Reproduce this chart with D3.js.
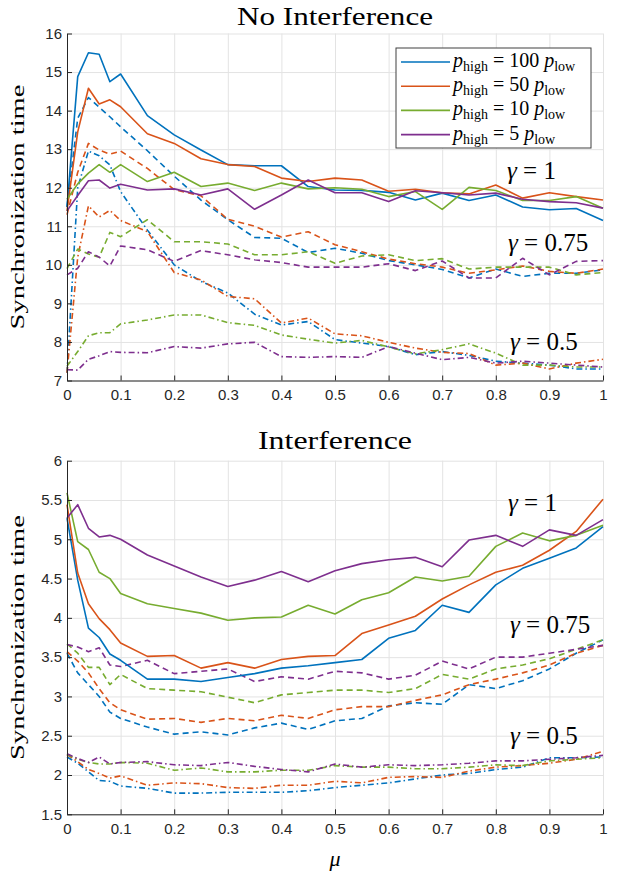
<!DOCTYPE html>
<html>
<head>
<meta charset="utf-8">
<script src="https://cdn.jsdelivr.net/npm/d3@7"></script>
<style>
  body { margin: 0; background: #fff; }
  .tick text { font-family: "Liberation Sans", Arial, sans-serif; font-size: 15px; fill: #262626; }
  .serif { font-family: "Liberation Serif", "DejaVu Serif", serif; fill: #000; }
</style>
</head>
<body>
<div id="chart"></div>
<script>
var W = 618, H = 873;

var colors = ["#0072BD", "#D95319", "#77AC30", "#7E2F8E"];
var ratios = ["100", "50", "10", "5"];

var mu = [0, 0.02, 0.04, 0.06, 0.08, 0.1, 0.15, 0.2, 0.25, 0.3, 0.35, 0.4, 0.45, 0.5,
          0.55, 0.6, 0.65, 0.7, 0.75, 0.8, 0.85, 0.9, 0.95, 1];
var xTicks = [0, 0.1, 0.2, 0.3, 0.4, 0.5, 0.6, 0.7, 0.8, 0.9, 1];
var topYTicks = [7, 8, 9, 10, 11, 12, 13, 14, 15, 16];
var botYTicks = [1.5, 2, 2.5, 3, 3.5, 4, 4.5, 5, 5.5, 6];

// No interference, gamma = 1
var nb100 = [11.5, 14.88, 15.5, 15.46, 14.75, 14.95, 13.87, 13.37, 12.98, 12.6, 12.57, 12.57, 12.03, 11.94, 11.93, 11.88, 11.68, 11.86, 11.67, 11.81, 11.5, 11.43, 11.46, 11.15];
var nb50  = [11.4, 13.45, 14.58, 14.17, 14.28, 14.1, 13.4, 13.15, 12.75, 12.6, 12.55, 12.25, 12.16, 12.25, 12.2, 11.91, 11.96, 11.87, 11.84, 12.07, 11.73, 11.87, 11.77, 11.68];
var nb10  = [11.7, 12.1, 12.38, 12.6, 12.4, 12.6, 12.16, 12.4, 12.03, 12.12, 11.93, 12.12, 11.97, 12.0, 11.96, 11.77, 11.9, 11.44, 12.01, 11.93, 11.67, 11.67, 11.77, 11.47];
var nb5   = [11.4, 11.8, 12.18, 12.2, 11.99, 12.09, 11.94, 11.97, 11.81, 11.97, 11.44, 11.81, 12.2, 11.87, 11.87, 11.64, 11.92, 11.87, 11.81, 11.86, 11.7, 11.64, 11.61, 11.47];
// No interference, gamma = 0.75
var nd100 = [11.5, 13.8, 14.34, 14.09, 13.84, 13.58, 12.96, 12.3, 11.68, 11.17, 10.71, 10.69, 10.32, 10.43, 10.3, 10.11, 10.0, 9.88, 9.66, 9.89, 9.7, 9.78, 9.78, 9.87];
var nd50  = [11.3, 12.4, 13.15, 12.98, 12.87, 12.95, 12.5, 11.95, 11.79, 11.18, 11.0, 10.72, 10.86, 10.52, 10.34, 10.15, 10.03, 9.94, 9.78, 9.87, 9.97, 9.83, 9.78, 9.89];
var nd10  = [9.9, 10.41, 10.28, 10.2, 10.84, 10.73, 11.17, 10.6, 10.6, 10.54, 10.26, 10.26, 10.34, 10.04, 10.23, 10.26, 10.11, 10.16, 9.89, 9.94, 9.94, 9.94, 9.74, 9.8];
var nd5   = [9.74, 9.91, 10.34, 10.2, 9.97, 10.49, 10.39, 10.09, 10.37, 10.26, 10.13, 10.06, 9.94, 9.94, 9.94, 10.03, 9.85, 10.1, 9.66, 9.66, 10.17, 9.74, 10.09, 10.11];
// No interference, gamma = 0.5
var nc100 = [7.2, 12.0, 12.95, 12.83, 12.59, 11.9, 10.9, 10.0, 9.57, 9.27, 8.72, 8.44, 8.53, 8.06, 7.97, 7.88, 7.67, 7.75, 7.65, 7.5, 7.45, 7.4, 7.3, 7.3];
var nc50  = [7.2, 10.2, 11.53, 11.24, 11.41, 11.15, 10.86, 9.8, 9.61, 9.18, 9.12, 8.49, 8.62, 8.21, 8.16, 7.99, 7.84, 7.73, 7.7, 7.4, 7.45, 7.3, 7.45, 7.55];
var nc10  = [7.37, 7.75, 8.16, 8.24, 8.24, 8.47, 8.57, 8.7, 8.7, 8.5, 8.43, 8.18, 8.07, 7.97, 8.04, 7.87, 7.69, 7.8, 7.95, 7.71, 7.4, 7.4, 7.35, 7.35];
var nc5   = [7.28, 7.27, 7.55, 7.64, 7.75, 7.73, 7.72, 7.88, 7.84, 7.95, 7.99, 7.62, 7.6, 7.62, 7.6, 7.88, 7.71, 7.54, 7.6, 7.45, 7.5, 7.45, 7.4, 7.35];

// Interference, gamma = 1
var ib100 = [5.27, 4.48, 3.87, 3.75, 3.54, 3.46, 3.22, 3.22, 3.19, 3.24, 3.29, 3.36, 3.39, 3.43, 3.47, 3.74, 3.84, 4.16, 4.07, 4.42, 4.63, 4.76, 4.89, 5.16];
var ib50  = [5.44, 4.57, 4.18, 3.99, 3.85, 3.68, 3.51, 3.52, 3.36, 3.43, 3.36, 3.47, 3.51, 3.52, 3.8, 3.91, 4.02, 4.24, 4.42, 4.58, 4.67, 4.86, 5.1, 5.51];
var ib10  = [5.59, 4.97, 4.87, 4.58, 4.5, 4.31, 4.18, 4.12, 4.06, 3.97, 4.0, 4.01, 4.16, 4.05, 4.23, 4.32, 4.52, 4.47, 4.53, 4.91, 5.08, 4.98, 5.05, 5.18];
var ib5   = [5.27, 5.44, 5.14, 5.03, 5.05, 5.0, 4.8, 4.66, 4.52, 4.4, 4.48, 4.59, 4.46, 4.6, 4.69, 4.74, 4.77, 4.65, 4.99, 5.05, 4.91, 5.12, 5.05, 5.25];
// Interference, gamma = 0.75
var id100 = [3.55, 3.3, 3.15, 3.0, 2.8, 2.72, 2.61, 2.52, 2.55, 2.51, 2.6, 2.66, 2.58, 2.69, 2.72, 2.88, 2.92, 2.9, 3.15, 3.1, 3.2, 3.35, 3.55, 3.72];
var id50  = [3.57, 3.45, 3.3, 3.1, 2.92, 2.83, 2.71, 2.72, 2.67, 2.72, 2.69, 2.76, 2.72, 2.83, 2.87, 2.87, 2.95, 3.02, 3.15, 3.22, 3.3, 3.4, 3.55, 3.65];
var id10  = [3.67, 3.55, 3.37, 3.37, 3.15, 3.28, 3.1, 3.08, 3.06, 2.99, 2.92, 3.02, 3.05, 3.08, 3.08, 3.05, 3.1, 3.28, 3.22, 3.35, 3.4, 3.48, 3.6, 3.72];
var id5   = [3.66, 3.63, 3.57, 3.62, 3.4, 3.38, 3.46, 3.29, 3.32, 3.35, 3.19, 3.25, 3.22, 3.32, 3.3, 3.22, 3.27, 3.45, 3.35, 3.5, 3.5, 3.55, 3.6, 3.65];
// Interference, gamma = 0.5
var ic100 = [2.23, 2.15, 2.04, 1.93, 1.92, 1.86, 1.83, 1.77, 1.77, 1.78, 1.78, 1.78, 1.8, 1.84, 1.87, 1.9, 1.95, 2.0, 2.02, 2.07, 2.1, 2.22, 2.22, 2.23];
var ic50  = [2.26, 2.17, 2.07, 2.02, 1.96, 1.99, 1.87, 1.9, 1.89, 1.84, 1.83, 1.87, 1.87, 1.92, 1.9, 1.97, 1.98, 1.97, 2.05, 2.1, 2.12, 2.15, 2.2, 2.3];
var ic10  = [2.26, 2.2, 2.16, 2.14, 2.14, 2.16, 2.15, 2.06, 2.09, 2.04, 2.04, 2.06, 2.06, 2.12, 2.1, 2.1, 2.08, 2.08, 2.1, 2.13, 2.12, 2.18, 2.2, 2.22];
var ic5   = [2.27, 2.21, 2.16, 2.23, 2.14, 2.16, 2.17, 2.13, 2.12, 2.16, 2.11, 2.07, 2.04, 2.14, 2.1, 2.13, 2.12, 2.13, 2.15, 2.18, 2.18, 2.2, 2.22, 2.25];

var dashSolid = null, dashDashed = "6,4", dashDot = "6,3,1.5,3";

var svg = d3.select("#chart").append("svg")
    .attr("width", W)
    .attr("height", H);

function drawPanel(opts) {
    var x = d3.scaleLinear().domain([0, 1]).range([67, 603]);
    var y = d3.scaleLinear().domain(opts.yDomain).range(opts.yRange);
    var g = svg.append("g");
    var left = x(0), right = x(1), top = y.range()[1], bottom = y.range()[0];

    // grid
    g.append("g")
        .attr("transform", "translate(0," + bottom + ")")
        .call(d3.axisBottom(x).tickValues(xTicks).tickSize(-(bottom - top)).tickFormat(""))
        .call(function(s) { s.select(".domain").remove(); })
        .selectAll("line").attr("stroke", "#e3e3e3");
    g.append("g")
        .attr("transform", "translate(" + left + ",0)")
        .call(d3.axisLeft(y).tickValues(opts.yTicks).tickSize(-(right - left)).tickFormat(""))
        .call(function(s) { s.select(".domain").remove(); })
        .selectAll("line").attr("stroke", "#e3e3e3");

    var line = d3.line()
        .x(function(d, i) { return x(mu[i]); })
        .y(function(d) { return y(d); });

    opts.series.forEach(function(s) {
        g.append("path")
            .datum(s.values)
            .attr("fill", "none")
            .attr("stroke", colors[s.c])
            .attr("stroke-width", 1.6)
            .attr("stroke-linejoin", "round")
            .attr("stroke-dasharray", s.dash)
            .attr("d", line);
    });

    // axes
    var xAxis = g.append("g")
        .attr("transform", "translate(0," + bottom + ")")
        .call(d3.axisBottom(x).tickValues(xTicks).tickSizeInner(-5).tickSizeOuter(0).tickPadding(9)
            .tickFormat(function(d) { return d === 0 || d === 1 ? d : d3.format(".1f")(d); }));
    var yAxis = g.append("g")
        .attr("transform", "translate(" + left + ",0)")
        .call(d3.axisLeft(y).tickValues(opts.yTicks).tickSizeInner(-5).tickSizeOuter(0).tickPadding(5)
            .tickFormat(function(d) { return d; }));
    [xAxis, yAxis].forEach(function(a) {
        a.selectAll(".domain").attr("stroke", "#262626").attr("stroke-width", 1);
        a.selectAll(".tick line").attr("stroke", "#262626");
    });

    // title
    svg.append("text").attr("class", "serif")
        .attr("x", (left + right) / 2).attr("y", opts.titleY)
        .attr("text-anchor", "middle").attr("font-size", 26)
        .attr("textLength", opts.titleLen).attr("lengthAdjust", "spacingAndGlyphs")
        .text(opts.title);

    // y label
    svg.append("text").attr("class", "serif")
        .attr("transform", "translate(24," + ((top + bottom) / 2) + ") rotate(-90)")
        .attr("text-anchor", "middle").attr("font-size", 18)
        .attr("textLength", 245).attr("lengthAdjust", "spacingAndGlyphs")
        .text("Synchronization time");

    // gamma labels
    opts.gammas.forEach(function(gm) {
        var t = svg.append("text").attr("class", "serif")
            .attr("x", gm.x).attr("y", gm.y).attr("font-size", 25);
        t.append("tspan").attr("font-style", "italic").text("γ");
        t.append("tspan").text(" = " + gm.label);
    });
}

drawPanel({
    yDomain: [7, 16], yRange: [380.5, 33.5], yTicks: topYTicks,
    title: "No Interference", titleY: 25, titleLen: 196,
    gammas: [{label: "1", x: 507, y: 179}, {label: "0.75", x: 508, y: 251}, {label: "0.5", x: 510, y: 350}],
    series: [
        {values: nc100, c: 0, dash: dashDot}, {values: nc50, c: 1, dash: dashDot},
        {values: nc10, c: 2, dash: dashDot}, {values: nc5, c: 3, dash: dashDot},
        {values: nd100, c: 0, dash: dashDashed}, {values: nd50, c: 1, dash: dashDashed},
        {values: nd10, c: 2, dash: dashDashed}, {values: nd5, c: 3, dash: dashDashed},
        {values: nb100, c: 0, dash: dashSolid}, {values: nb50, c: 1, dash: dashSolid},
        {values: nb10, c: 2, dash: dashSolid}, {values: nb5, c: 3, dash: dashSolid}
    ]
});

drawPanel({
    yDomain: [1.5, 6], yRange: [814.3, 460.7], yTicks: botYTicks,
    title: "Interference", titleY: 449, titleLen: 154,
    gammas: [{label: "1", x: 508, y: 511}, {label: "0.75", x: 510, y: 633}, {label: "0.5", x: 510, y: 744}],
    series: [
        {values: ic100, c: 0, dash: dashDot}, {values: ic50, c: 1, dash: dashDot},
        {values: ic10, c: 2, dash: dashDot}, {values: ic5, c: 3, dash: dashDot},
        {values: id100, c: 0, dash: dashDashed}, {values: id50, c: 1, dash: dashDashed},
        {values: id10, c: 2, dash: dashDashed}, {values: id5, c: 3, dash: dashDashed},
        {values: ib100, c: 0, dash: dashSolid}, {values: ib50, c: 1, dash: dashSolid},
        {values: ib10, c: 2, dash: dashSolid}, {values: ib5, c: 3, dash: dashSolid}
    ]
});

// x label
svg.append("text").attr("class", "serif")
    .attr("x", 335).attr("y", 866).attr("text-anchor", "middle")
    .attr("font-size", 22).attr("font-style", "italic").text("μ");

// legend
var legend = svg.append("g").attr("transform", "translate(396,48)");
legend.append("rect")
    .attr("width", 195).attr("height", 100)
    .attr("fill", "#fff").attr("stroke", "#404040").attr("stroke-width", 1);
ratios.forEach(function(r, i) {
    var yy = 14 + i * 24.2;
    legend.append("line")
        .attr("x1", 5).attr("x2", 54).attr("y1", yy).attr("y2", yy)
        .attr("stroke", colors[i]).attr("stroke-width", 1.6);
    var t = legend.append("text").attr("class", "serif")
        .attr("x", 57).attr("y", yy + 5).attr("font-size", 20);
    t.append("tspan").attr("font-style", "italic").text("p");
    t.append("tspan").attr("font-size", 14).attr("dy", 4).text("high");
    t.append("tspan").attr("dy", -4).text(" = " + r + " ");
    t.append("tspan").attr("font-style", "italic").text("p");
    t.append("tspan").attr("font-size", 14).attr("dy", 4).text("low");
});
</script>
</body>
</html>
